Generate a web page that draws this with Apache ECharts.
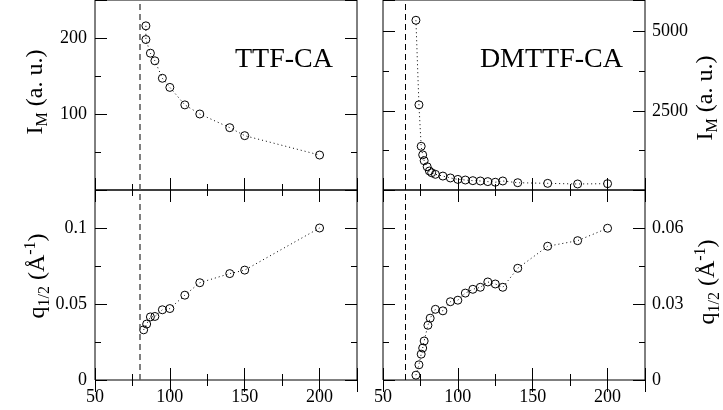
<!DOCTYPE html>
<html><head><meta charset="utf-8">
<script src="https://cdn.jsdelivr.net/npm/echarts@6/dist/echarts.min.js"></script>
<style>html,body{margin:0;padding:0;background:#fff}#c{width:723px;height:410px}</style>
</head><body><div id="c"></div>
<script>
// ---- data ----
const T_TTF_I = [84, 84, 87, 90, 95, 100, 110, 120, 140, 150, 200];
const I_TTF   = [216, 198, 180, 170, 147, 135, 112, 100, 82, 71.5, 46];
const T_TTF_Q = [82.5, 84.5, 87, 90, 95, 100, 110, 120, 140, 150, 200];
const Q_TTF   = [0.033, 0.0368, 0.0415, 0.0418, 0.0462, 0.047, 0.0558, 0.064, 0.070, 0.0723, 0.100];
const T_DM_I  = [72, 74, 75.5, 76.5, 77.5, 79.5, 81, 82.5, 85, 90, 95, 100, 105, 110, 115, 120, 125, 130, 140, 160, 180, 200];
const I_DM    = [5360, 2690, 1380, 1110, 925, 735, 600, 545, 495, 440, 380, 335, 315, 295, 285, 265, 245, 285, 230, 210, 190, 200];
const T_DM_Q  = [72, 74, 75.5, 76.5, 77.5, 80, 81.5, 85, 90, 95, 100, 105, 110, 115, 120, 125, 130, 140, 160, 180, 200];
const Q_DM    = [0.0019, 0.006, 0.0102, 0.0126, 0.0154, 0.0216, 0.0244, 0.0279, 0.0273, 0.0309, 0.0315, 0.0343, 0.0358, 0.0366, 0.0387, 0.0379, 0.0366, 0.0441, 0.0528, 0.0550, 0.0599];
const T_C_TTF = 80;
const T_C_DM = 65;
const xTickLabels = ['50', '100', '150', '200'];
const yTickLabelsTTF_I = ['100', '200'];
const yTickLabelsTTF_Q = ['0', '0.05', '0.1'];
const yTickLabelsDM_I = ['2500', '5000'];
const yTickLabelsDM_Q = ['0', '0.03', '0.06'];
const titles = ['TTF-CA', 'DMTTF-CA'];

// ---- layout ----
const FONT = 'Liberation Serif';
const grids = [
  {left: 95, top: 0, width: 262, height: 190},
  {left: 95, top: 190, width: 262, height: 190},
  {left: 383, top: 0, width: 262, height: 190},
  {left: 383, top: 190, width: 262, height: 190}
];
const xAxis = [], yAxis = [];
const xMain = [], yMain = [];
function fmt(list){ return v => list.indexOf(String(v)) >= 0 ? String(v) : ''; }
const lblStyle = {color: '#000', fontFamily: FONT, fontSize: 18};
function addX(g, labels) {
  ['bottom', 'top'].forEach(pos => {
    [[50, 12], [25, 6]].forEach(([iv, len], k) => {
      const ax = {
        type: 'value', gridIndex: g, position: pos, min: 50, max: 225, interval: iv,
        axisLine: {show: false}, splitLine: {show: false},
        axisTick: {show: true, inside: true, length: len, lineStyle: {color: '#000', width: 1}},
        axisLabel: {show: false}
      };
      if (pos === 'bottom' && k === 0 && labels) {
        ax.axisLabel = Object.assign({show: true, margin: 8, formatter: fmt(labels), showMinLabel: true, showMaxLabel: true}, lblStyle);
      }
      if (pos === 'bottom' && k === 0) xMain[g] = xAxis.length;
      xAxis.push(ax);
    });
  });
}
function addY(g, max, iv, labels, labelSide) {
  ['left', 'right'].forEach(pos => {
    [[iv, 12], [iv / 2, 6]].forEach(([ivv, len], k) => {
      const ax = {
        type: 'value', gridIndex: g, position: pos, min: 0, max: max, interval: ivv,
        axisLine: {show: false}, splitLine: {show: false},
        axisTick: {show: true, inside: true, length: len, lineStyle: {color: '#000', width: 1}},
        axisLabel: {show: false}
      };
      if (pos === labelSide && k === 0) {
        ax.axisLabel = Object.assign({show: true, margin: pos === 'left' ? 8 : 7, formatter: fmt(labels), showMinLabel: true, showMaxLabel: true}, lblStyle);
      }
      if (pos === 'left' && k === 0) yMain[g] = yAxis.length;
      yAxis.push(ax);
    });
  });
}
addX(0, null); addY(0, 250, 100, yTickLabelsTTF_I, 'left');
addX(1, xTickLabels); addY(1, 0.125, 0.05, yTickLabelsTTF_Q, 'left');
addX(2, null); addY(2, 6000, 2500, yTickLabelsDM_I, 'right');
addX(3, xTickLabels); addY(3, 0.075, 0.03, yTickLabelsDM_Q, 'right');

function zip(a, b){ return a.map((v, i) => [v, b[i]]); }
function mkSeries(g, xs, ys, tc, dashColor, dashW) {
  return {
    type: 'line', xAxisIndex: xMain[g], yAxisIndex: yMain[g], data: zip(xs, ys),
    symbol: 'circle', symbolSize: 8,
    itemStyle: {color: 'rgba(0,0,0,0)', borderColor: '#000', borderWidth: 1},
    lineStyle: {color: '#000', width: 1, type: [1, 3]},
    emphasis: {disabled: true}, silent: true, animation: false,
    markLine: {silent: true, symbol: 'none', label: {show: false}, animation: false,
      lineStyle: {type: [6, 4], color: dashColor, width: dashW},
      emphasis: {disabled: true},
      data: [{xAxis: tc}]}
  };
}
const series = [
  mkSeries(0, T_TTF_I, I_TTF, T_C_TTF, '#555', 1.5),
  mkSeries(1, T_TTF_Q, Q_TTF, T_C_TTF, '#555', 1.5),
  mkSeries(2, T_DM_I, I_DM, T_C_DM, '#000', 1),
  mkSeries(3, T_DM_Q, Q_DM, T_C_DM, '#000', 1)
];

const rich = {
  n: {fontFamily: FONT, fontSize: 24, lineHeight: 30, color: '#000'},
  s: {fontFamily: FONT, fontSize: 16, lineHeight: 14, verticalAlign: 'bottom', color: '#000'},
  p: {fontFamily: FONT, fontSize: 16, lineHeight: 14, verticalAlign: 'top', color: '#000'}
};
const labI = '{n|I}{s|M}{n| (a. u.)}';
const labQ = '{n|q}{s|1/2}{n| (Å}{p|-1}{n|)}';
function vlabel(x, y, t) {
  return {type: 'text', x: x, y: y, rotation: Math.PI / 2, silent: true,
    style: {text: t, rich: rich, align: 'center', verticalAlign: 'middle', fontFamily: FONT, fontSize: 24}};
}
const graphic = [
  vlabel(36, 92, labI), vlabel(38, 276, labQ),
  vlabel(706, 98, labI), vlabel(708, 282, labQ),
  {type: 'text', x: 333, y: 60, silent: true, style: {text: titles[0], fontFamily: FONT, fontSize: 28, fill: '#000', align: 'right', verticalAlign: 'middle'}},
  {type: 'text', x: 623, y: 60, silent: true, style: {text: titles[1], fontFamily: FONT, fontSize: 28, fill: '#000', align: 'right', verticalAlign: 'middle'}}
];

const chart = echarts.init(document.getElementById('c'), null, {renderer: 'canvas'});
chart.setOption({
  animation: false,
  backgroundColor: '#fff',
  grid: grids.map(g => Object.assign({show: true, borderColor: '#000', borderWidth: 1, backgroundColor: 'transparent', containLabel: false}, g)),
  xAxis: xAxis, yAxis: yAxis, series: series, graphic: graphic
});
</script></body></html>
